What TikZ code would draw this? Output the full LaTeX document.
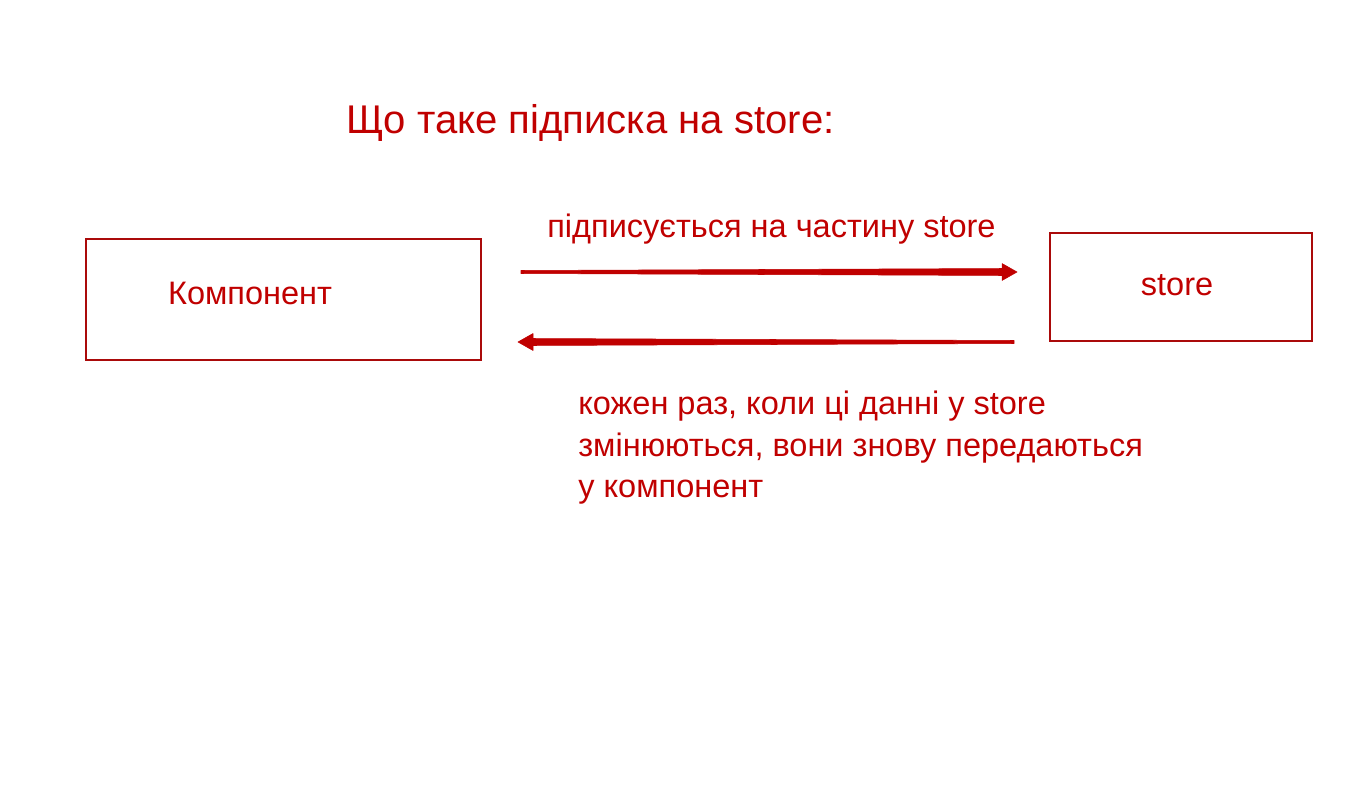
\documentclass[tikz,border=0pt]{standalone}
\usepackage{fontspec}
\setmainfont{Liberation Sans}
\usetikzlibrary{arrows.meta,positioning,calc}
\definecolor{redtxt}{RGB}{192,0,0}
\definecolor{redline}{RGB}{170,10,10}

\begin{document}
\begin{tikzpicture}[x=0.02cm,y=-0.02cm,
  box/.style={draw=redline, line width=1.1pt, inner sep=0pt},
  lbl/.style={text=redtxt, inner sep=0pt, font=\fontsize{18.5}{23.5}\selectfont},
  flow/.style={fill=redtxt, draw=redtxt, line width=0.3pt, line join=round}]
\useasboundingbox (0,0) rectangle (1371,787);
% title
\node[lbl, anchor=base west, font=\fontsize{22.8}{28}\selectfont] (title) at (346,134) {Що таке підписка на store:};
% boxes
\node[box, minimum width=395*0.02cm, minimum height=121*0.02cm] (comp) at (283.5,299.5) {};
\node[lbl, anchor=base] (compt) at (250,304) {Компонент};
\node[box, minimum width=262*0.02cm, minimum height=108*0.02cm] (store) at (1181,287) {};
\node[lbl, anchor=base] (storet) at (1177,295) {store};
% arrows (thin at the tail, thicker towards the head)
\coordinate (a1) at (521,272);
\coordinate (a2) at (1017,272);
\coordinate (b1) at (1014,342);
\coordinate (b2) at (518,342);
\filldraw[flow] ($(a1)+(0,-1.5)$) -- ($(a2)+(-15,-3.5)$) -- ($(a2)+(-15,-8.5)$) -- (a2)
  -- ($(a2)+(-15,8.5)$) -- ($(a2)+(-15,3.5)$) -- ($(a1)+(0,1.5)$) -- cycle;
\filldraw[flow] ($(b1)+(0,-1.5)$) -- ($(b2)+(15,-3.5)$) -- ($(b2)+(15,-8.5)$) -- (b2)
  -- ($(b2)+(15,8.5)$) -- ($(b2)+(15,3.5)$) -- ($(b1)+(0,1.5)$) -- cycle;
% labels
\node[lbl, anchor=base west] (sub) at (547,237) {підписується на частину store};
\node[lbl, anchor=north west, align=left] (upd) at (578,391) {кожен раз, коли ці данні у store\\змінюються, вони знову передаються\\у компонент};
\end{tikzpicture}
\end{document}
